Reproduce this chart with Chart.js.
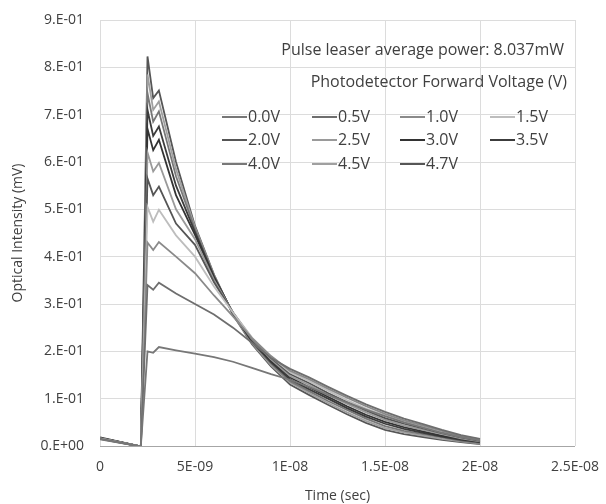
<!DOCTYPE html>
<html>
<head>
<meta charset="utf-8">
<script src="https://cdn.jsdelivr.net/npm/chart.js@4/dist/chart.umd.min.js"></script>
<style>
  html, body { margin: 0; padding: 0; background: #fff; }
  #wrap { width: 606px; height: 504px; }
</style>
</head>
<body>
<div id="wrap"><canvas id="pulse-chart" width="606" height="504"></canvas></div>
<script>
// time in ns
const times = [0, 2.0, 2.15, 2.5, 2.8, 3.1, 4, 5, 6, 7, 8, 9, 10, 11, 12, 13, 14, 15, 16, 17, 18, 19, 20];

const v00 = [0.014, 0, 0, 0.200, 0.197, 0.209, 0.202, 0.195, 0.188, 0.178, 0.165, 0.152, 0.140, 0.125, 0.108, 0.092, 0.077, 0.063, 0.050, 0.039, 0.028, 0.019, 0.012];
const v05 = [0.015, 0, 0, 0.340, 0.330, 0.345, 0.322, 0.300, 0.278, 0.250, 0.218, 0.186, 0.163, 0.145, 0.125, 0.106, 0.088, 0.072, 0.058, 0.046, 0.034, 0.023, 0.015];
const v10 = [0.015, 0, 0, 0.430, 0.414, 0.431, 0.400, 0.365, 0.318, 0.274, 0.228, 0.190, 0.159, 0.141, 0.121, 0.102, 0.084, 0.068, 0.054, 0.043, 0.032, 0.021, 0.014];
const v15 = [0.016, 0, 0, 0.505, 0.474, 0.499, 0.445, 0.400, 0.337, 0.282, 0.229, 0.189, 0.156, 0.137, 0.117, 0.097, 0.079, 0.064, 0.051, 0.040, 0.029, 0.020, 0.013];
const v20 = [0.016, 0, 0, 0.565, 0.530, 0.548, 0.470, 0.425, 0.346, 0.282, 0.227, 0.186, 0.152, 0.133, 0.112, 0.093, 0.075, 0.059, 0.047, 0.037, 0.027, 0.018, 0.011];
const v25 = [0.016, 0, 0, 0.620, 0.580, 0.598, 0.500, 0.437, 0.351, 0.282, 0.225, 0.183, 0.148, 0.129, 0.108, 0.089, 0.071, 0.055, 0.043, 0.034, 0.025, 0.016, 0.010];
const v30 = [0.017, 0, 0, 0.670, 0.625, 0.647, 0.530, 0.446, 0.355, 0.281, 0.223, 0.180, 0.145, 0.124, 0.104, 0.084, 0.066, 0.051, 0.040, 0.031, 0.022, 0.015, 0.009];
const v35 = [0.017, 0, 0, 0.710, 0.655, 0.675, 0.550, 0.452, 0.358, 0.280, 0.221, 0.177, 0.141, 0.120, 0.100, 0.080, 0.062, 0.047, 0.036, 0.028, 0.020, 0.013, 0.008];
const v40 = [0.017, 0, 0, 0.745, 0.685, 0.707, 0.570, 0.458, 0.360, 0.279, 0.219, 0.174, 0.137, 0.116, 0.095, 0.076, 0.058, 0.042, 0.032, 0.025, 0.018, 0.011, 0.006];
const v45 = [0.018, 0, 0, 0.785, 0.710, 0.728, 0.585, 0.462, 0.361, 0.278, 0.217, 0.171, 0.134, 0.112, 0.091, 0.071, 0.053, 0.038, 0.029, 0.022, 0.015, 0.010, 0.005];
const v47 = [0.018, 0, 0, 0.823, 0.735, 0.751, 0.600, 0.465, 0.362, 0.277, 0.215, 0.168, 0.130, 0.108, 0.087, 0.067, 0.049, 0.034, 0.025, 0.019, 0.013, 0.008, 0.004];

const seriesNames = ["0.0V", "0.5V", "1.0V", "1.5V", "2.0V", "2.5V", "3.0V", "3.5V", "4.0V", "4.5V", "4.7V"];
const seriesValues = [v00, v05, v10, v15, v20, v25, v30, v35, v40, v45, v47];
const seriesColors = ["#777777", "#6e6e6e", "#8a8a8a", "#bdbdbd", "#555555", "#9a9a9a", "#333333", "#3c3c3c", "#787878", "#a0a0a0", "#565656"];

const xTickLabels = ["0", "5E-09", "1E-08", "1.5E-08", "2E-08", "2.5E-08"];
const yTickLabels = ["0.E+00", "1.E-01", "2.E-01", "3.E-01", "4.E-01", "5.E-01", "6.E-01", "7.E-01", "8.E-01", "9.E-01"];

const fontFamily = "'Open Sans', sans-serif";
const textColor = "#404040";

const datasets = seriesNames.map(function(name, i) {
  return {
    label: name,
    data: times.map(function(t, j) { return { x: t, y: seriesValues[i][j] }; }),
    borderColor: seriesColors[i],
    backgroundColor: seriesColors[i],
    borderWidth: 1.8,
    pointRadius: 0,
    tension: 0,
    fill: false
  };
});

// drawn legend inside the plot area (title lines + 4 column grid)
const insideLegend = {
  id: "insideLegend",
  afterDatasetsDraw: function(chart) {
    const ctx = chart.ctx;
    ctx.save();
    ctx.fillStyle = textColor;
    ctx.font = "16px " + fontFamily;
    ctx.textBaseline = "middle";
    ctx.textAlign = "right";
    ctx.fillText("Pulse leaser average power: 8.037mW", 564, 50);
    ctx.fillText("Photodetector Forward Voltage (V)", 567, 82);
    ctx.textAlign = "left";
    const colX = [222, 312, 400, 490];
    const rowY = [117, 140, 164];
    seriesNames.forEach(function(name, i) {
      const cx = colX[i % 4];
      const cy = rowY[Math.floor(i / 4)];
      ctx.strokeStyle = seriesColors[i];
      ctx.lineWidth = 2;
      ctx.beginPath();
      ctx.moveTo(cx, cy);
      ctx.lineTo(cx + 25, cy);
      ctx.stroke();
      ctx.fillText(name, cx + 26, cy);
    });
    ctx.restore();
  }
};

const options = {
  responsive: false,
  animation: false,
  layout: {
    padding: { top: 20, right: 31, left: 0, bottom: 0 }
  },
  scales: {
    x: {
      type: "linear",
      min: 0,
      max: 25,
      afterFit: function(scale) {
        scale.height = 58;
        scale.paddingLeft = 0;
        scale.paddingRight = 0;
      },
      ticks: {
        stepSize: 5,
        padding: 13,
        color: textColor,
        font: { family: fontFamily, size: 14 },
        maxRotation: 0,
        callback: function(value) {
          return xTickLabels[Math.round(value / 5)];
        }
      },
      grid: { color: "#dcdcdc", drawTicks: false, lineWidth: 1 },
      border: { display: false },
      title: {
        display: true,
        text: "Time (sec)",
        color: textColor,
        font: { family: fontFamily, size: 14 },
        padding: { top: 2, bottom: 0 }
      }
    },
    y: {
      min: 0,
      max: 0.9,
      afterFit: function(scale) {
        scale.width = 100;
        scale.paddingTop = 0;
        scale.paddingBottom = 0;
      },
      ticks: {
        stepSize: 0.1,
        padding: 16,
        color: textColor,
        font: { family: fontFamily, size: 14 },
        callback: function(value) {
          return yTickLabels[Math.round(value * 10)];
        }
      },
      grid: {
        drawTicks: false,
        lineWidth: 1,
        color: function(c) { return c.tick && c.tick.value === 0 ? "#a6a6a6" : "#dcdcdc"; }
      },
      border: { display: false },
      title: {
        display: true,
        text: "Optical Intensity (mV)",
        color: textColor,
        font: { family: fontFamily, size: 14 },
        padding: { top: 10, bottom: 4 }
      }
    }
  },
  plugins: {
    legend: { display: false },
    tooltip: { enabled: false }
  }
};

const ctx = document.getElementById("pulse-chart").getContext("2d");
new Chart(ctx, {
  type: "line",
  data: { datasets: datasets },
  options: options,
  plugins: [insideLegend]
});
</script>
</body>
</html>
